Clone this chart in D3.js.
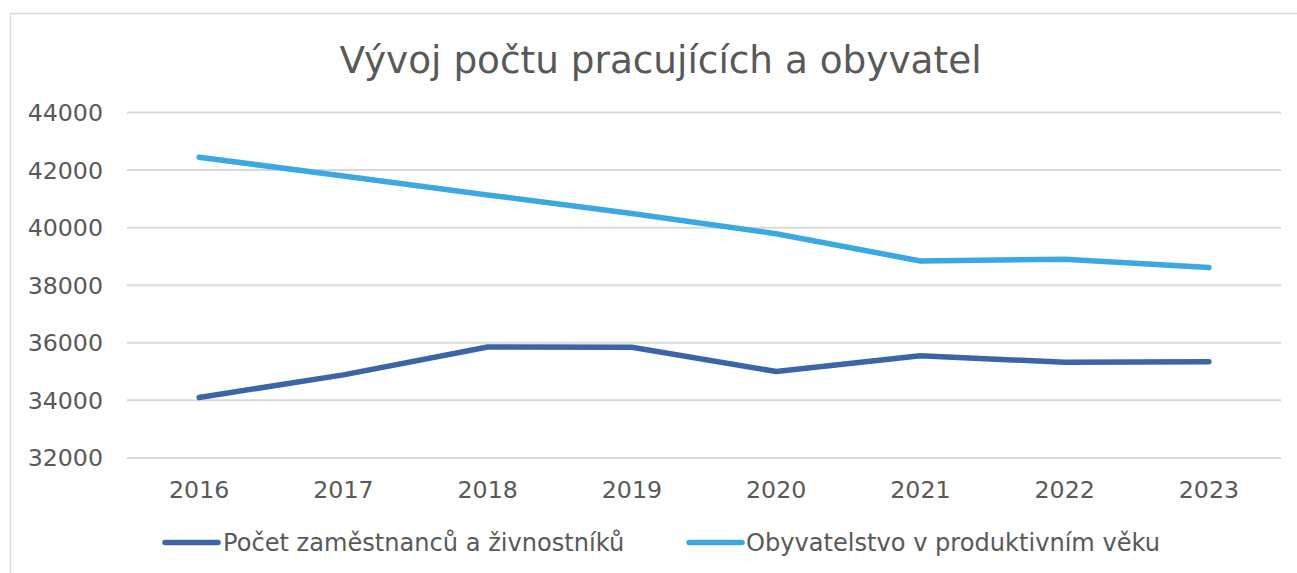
<!DOCTYPE html>
<html>
<head>
<meta charset="utf-8">
<script src="https://cdn.jsdelivr.net/npm/d3@7"></script>
<style>
  html, body { margin: 0; padding: 0; background: #ffffff; }
  svg { display: block; font-family: "DejaVu Sans", Verdana, sans-serif; }
</style>
</head>
<body>
<svg id="chart" width="1297" height="573"></svg>
<script>
const title = "Vývoj počtu pracujících a obyvatel";
const years = ["2016", "2017", "2018", "2019", "2020", "2021", "2022", "2023"];
const workers = [34080, 34868, 35837, 35826, 34983, 35528, 35306, 35319];
const population = [42427, 41778, 41118, 40476, 39770, 38826, 38885, 38594];
const seriesNames = ["Počet zaměstnanců a živnostníků", "Obyvatelstvo v produktivním věku"];
const yTicks = [32000, 34000, 36000, 38000, 40000, 42000, 44000];

const colors = ["#3C65A7", "#3BA9E1"];
const textColor = "#595959";
const gridColor = "#d9d9d9";

const svg = d3.select("#chart");

// outer chart border (extends past right/bottom edges)
svg.append("rect")
  .attr("x", 10.5).attr("y", 13.5)
  .attr("width", 1320).attr("height", 620)
  .attr("fill", "#ffffff")
  .attr("stroke", gridColor).attr("stroke-width", 1.5);

const plot = { left: 127, right: 1281, top: 112, bottom: 457.4 };

const x = d3.scaleBand().domain(years).range([plot.left, plot.right]).padding(0);
const y = d3.scaleLinear().domain([32000, 44000]).range([plot.bottom, plot.top]);

// title
svg.append("text")
  .attr("x", 660.5).attr("y", 73)
  .attr("text-anchor", "middle")
  .attr("font-size", 37.4)
  .attr("fill", textColor)
  .text(title);

// gridlines + y labels via axis
const yAxis = d3.axisLeft(y).tickValues(yTicks).tickSize(-(plot.right - plot.left)).tickPadding(24).tickFormat(d3.format("d"));
const gy = svg.append("g").attr("transform", `translate(${plot.left},0)`).call(yAxis);
gy.select(".domain").remove();
gy.selectAll(".tick line").attr("stroke", gridColor).attr("stroke-width", 2);
gy.selectAll(".tick text").attr("fill", textColor).attr("font-size", 23.7)
  .attr("font-family", "DejaVu Sans, Verdana, sans-serif").attr("dy", "0.36em");

// x labels
const xAxis = d3.axisBottom(x).tickSize(0).tickPadding(0);
const gx = svg.append("g").attr("transform", `translate(0,${plot.bottom})`).call(xAxis);
gx.select(".domain").remove();
gx.selectAll(".tick text").attr("fill", textColor).attr("font-size", 23.7)
  .attr("font-family", "DejaVu Sans, Verdana, sans-serif").attr("dy", 0).attr("y", 40.5);

// lines
const line = d3.line().x((d, i) => x(years[i]) + x.bandwidth() / 2).y(d => y(d));
[workers, population].forEach((data, k) => {
  svg.append("path")
    .datum(data)
    .attr("d", line)
    .attr("fill", "none")
    .attr("stroke", colors[k])
    .attr("stroke-width", 5.5)
    .attr("stroke-linejoin", "round")
    .attr("stroke-linecap", "round");
});

// legend
const legendItems = [
  { x1: 165, x2: 218, tx: 223 },
  { x1: 689, x2: 742, tx: 746 }
];
legendItems.forEach((it, k) => {
  svg.append("line")
    .attr("x1", it.x1).attr("x2", it.x2)
    .attr("y1", 542.5).attr("y2", 542.5)
    .attr("stroke", colors[k]).attr("stroke-width", 5.5)
    .attr("stroke-linecap", "round");
  svg.append("text")
    .attr("x", it.tx).attr("y", 551)
    .attr("font-size", 24.1)
    .attr("fill", textColor)
    .text(seriesNames[k]);
});
</script>
</body>
</html>
